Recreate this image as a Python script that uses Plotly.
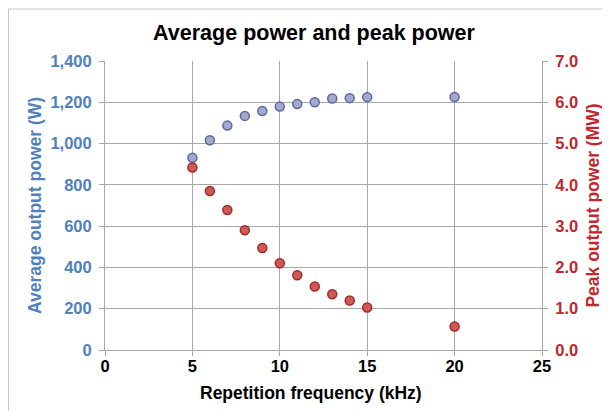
import plotly.graph_objects as go

freq_khz = [5, 6, 7, 8, 9, 10, 11, 12, 13, 14, 15, 20]
avg_power_w = [931, 1016, 1087, 1134, 1158, 1179, 1192, 1200, 1218, 1220, 1225, 1226]
peak_power_mw = [4.42, 3.85, 3.39, 2.90, 2.47, 2.10, 1.81, 1.54, 1.35, 1.20, 1.03, 0.57]

FONT = "Liberation Sans, Arial, sans-serif"
BLUE = "#4f81bd"
RED = "#c0282d"
GRID = "#a8a8a8"

fig = go.Figure()
fig.add_trace(go.Scatter(
    x=freq_khz, y=avg_power_w, mode="markers", name="Average",
    marker=dict(size=9, color="#a4a7d0", line=dict(color="#5b6a9c", width=1.5)),
    yaxis="y"))
fig.add_trace(go.Scatter(
    x=freq_khz, y=peak_power_mw, mode="markers", name="Peak",
    marker=dict(size=9, color="#cf5a55", line=dict(color="#a02c2a", width=1.5)),
    yaxis="y2"))

# page has an 8px body margin, figure starts at (8, 8) of the window
W, H = 602, 403
l, r, t, b = 97, 68, 53, 61
pw, ph = W - l - r, H - t - b

fig.update_layout(
    width=W, height=H,
    margin=dict(l=l, r=r, t=t, b=b, autoexpand=False),
    paper_bgcolor="white", plot_bgcolor="white",
    showlegend=False,
    font=dict(family=FONT),
    title=dict(text="<b>Average power and peak power</b>", x=306 / W, xanchor="center",
               y=1 - 24 / H, yanchor="middle",
               font=dict(size=21.5, color="black", family=FONT, weight="bold")),
    xaxis=dict(range=[0, 25], dtick=5, tick0=0, showgrid=True, gridcolor=GRID, gridwidth=1,
               showline=True, linecolor=GRID, linewidth=1, ticks="outside", ticklen=5,
               tickcolor=GRID, zeroline=False, ticklabelstandoff=-4,
               tickfont=dict(size=16.5, color="black", family=FONT, weight="bold")),
    yaxis=dict(range=[0, 1400], dtick=200, tick0=0, tickformat=",", showgrid=True,
               gridcolor=GRID, gridwidth=1, showline=True, linecolor=GRID, linewidth=1,
               ticks="outside", ticklen=5, tickcolor=GRID, zeroline=False, ticklabelstandoff=4,
               tickfont=dict(size=16.5, color=BLUE, family=FONT, weight="bold"),
               title=dict(text="<b>Average output power (W)</b>", standoff=4,
                          font=dict(size=17.5, color=BLUE, family=FONT, weight="bold"))),
    yaxis2=dict(range=[0, 7], dtick=1, tick0=0, tickformat=".1f", overlaying="y", side="right",
                showgrid=False, showline=True, linecolor=GRID, linewidth=1,
                ticks="outside", ticklen=5, tickcolor=GRID, zeroline=False, ticklabelstandoff=4,
                tickfont=dict(size=16.5, color=RED, family=FONT, weight="bold"),
                title=dict(text="<b>Peak output power (MW)</b>", standoff=9,
                           font=dict(size=17.5, color=RED, family=FONT, weight="bold"))),
)

# x-axis title (placed slightly left of plot centre, as in the reference)
fig.add_annotation(text="<b>Repetition frequency (kHz)</b>", xref="paper", yref="paper",
                   x=(303 - l) / pw, y=-(393 - 8 - (t + ph)) / ph, xanchor="center", yanchor="middle",
                   showarrow=False, font=dict(size=17.5, color="black", family=FONT, weight="bold"))

# chart-area border: only its left and top edges fall inside the window
border = dict(color="#c8c8c8", width=1)
fig.add_shape(type="line", xref="paper", yref="paper",
              x0=-l / pw + 0.5 / pw, x1=-l / pw + 0.5 / pw, y0=-b / ph, y1=(ph + t - 1) / ph, line=border)
fig.add_shape(type="line", xref="paper", yref="paper",
              x0=-l / pw, x1=(pw + r) / pw, y0=(ph + t - 1) / ph, y1=(ph + t - 1) / ph, line=border)

fig.write_html("out.html")
